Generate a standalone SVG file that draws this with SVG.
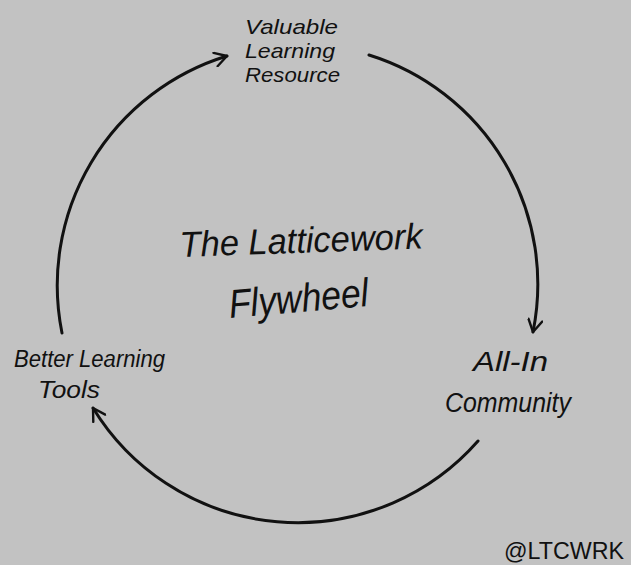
<svg xmlns="http://www.w3.org/2000/svg" width="631" height="565" viewBox="0 0 631 565">
  <style>
    .lbl { font-family: "Liberation Sans", "DejaVu Sans", sans-serif; font-style: italic; fill: #111; }
    .upright { font-style: normal; }
    .arc { fill: none; stroke: #111; stroke-width: 3; stroke-linecap: round; }
  </style>
  <defs>
    <marker id="open-arrow" viewBox="0 0 16 16" refX="14" refY="8" markerWidth="16" markerHeight="16" markerUnits="userSpaceOnUse" orient="auto">
      <path d="M2,1 L14,8 L2,15" fill="none" stroke="#111" stroke-width="2.4" stroke-linecap="round" stroke-linejoin="round"/>
    </marker>
  </defs>
  <rect width="631" height="565" fill="#c2c2c2"/>

  <!-- flywheel cycle: three arcs of one circle, centre (297,283), r 240 -->
  <g id="connectors">
    <path class="arc" d="M62,333 A240,240 0 0 1 227,56" marker-end="url(#open-arrow)"/>
    <path class="arc" d="M369,55 A240,240 0 0 1 533,332" marker-end="url(#open-arrow)"/>
    <path class="arc" d="M478,441 A240,240 0 0 1 93,408" marker-end="url(#open-arrow)"/>
  </g>

  <g id="valuable-learning-resource">
    <text class="lbl" x="245" y="34" font-size="21" textLength="93" lengthAdjust="spacingAndGlyphs">Valuable</text>
    <text class="lbl" x="245" y="58" font-size="21" textLength="90" lengthAdjust="spacingAndGlyphs">Learning</text>
    <text class="lbl" x="245" y="82" font-size="21" textLength="95" lengthAdjust="spacingAndGlyphs">Resource</text>
  </g>

  <g id="all-in-community">
    <text class="lbl" x="473" y="371" font-size="27" textLength="75" lengthAdjust="spacingAndGlyphs">All-In</text>
    <text class="lbl" x="445" y="412" font-size="27" textLength="126" lengthAdjust="spacingAndGlyphs">Community</text>
  </g>

  <g id="better-learning-tools">
    <text class="lbl" x="14" y="367" font-size="23" textLength="151" lengthAdjust="spacingAndGlyphs">Better Learning</text>
    <text class="lbl" x="38" y="398" font-size="23" textLength="62" lengthAdjust="spacingAndGlyphs">Tools</text>
  </g>

  <g id="title">
    <text class="lbl" x="180" y="257" font-size="36" textLength="243" lengthAdjust="spacingAndGlyphs" transform="rotate(-2 180 257)">The Latticework</text>
    <text class="lbl" x="230" y="318" font-size="40" textLength="140" lengthAdjust="spacingAndGlyphs" transform="rotate(-5 230 318)">Flywheel</text>
  </g>

  <g id="handle">
    <text class="lbl upright" x="504" y="559" font-size="24" textLength="120" lengthAdjust="spacingAndGlyphs">@LTCWRK</text>
  </g>
</svg>
